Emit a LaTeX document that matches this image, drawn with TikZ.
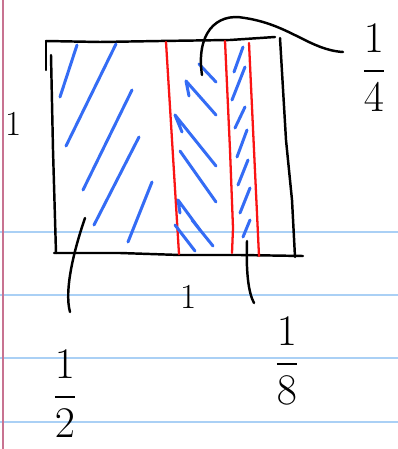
\documentclass[tikz,border=0pt]{standalone}
\usepackage{amsmath}
\definecolor{penblue}{RGB}{52,108,245}
\definecolor{penred}{RGB}{250,20,20}
\definecolor{ruleblue}{RGB}{170,208,245}
\definecolor{marginpink}{RGB}{200,115,145}
\tikzset{
  ink/.style={black, line width=1.4pt, line cap=round, line join=round},
  hatch/.style={penblue, line width=1.7pt, line cap=round, line join=round},
  cut/.style={penred, line width=1.3pt, line cap=round},
  frac/.style={inner sep=0pt, font=\fontsize{29}{34}\selectfont},
  unit/.style={inner sep=0pt, font=\fontsize{20}{24}\selectfont}
}
\begin{document}
\begin{tikzpicture}[x=0.02cm, y=-0.02cm]
    \useasboundingbox (0,0) rectangle (398,449);
    \fill[white] (0,0) rectangle (398,449);

    % 1. Giấy kẻ dòng
    \foreach \yy in {232,295,358,422}
        \draw[ruleblue, line width=1.1pt] (0,\yy) -- (398,\yy);
    \draw[marginpink, line width=1.1pt] (3,0) -- (3,449);

    % 2. Hình vuông
    \draw[ink] (46,41) -- (100,42) -- (160,41) -- (230,40) -- (275,37);
    \draw[ink] (46,41) -- (46,70);
    \draw[ink] (51,55) -- (53,150) -- (56,253);
    \draw[ink] (280,38) -- (286,140) -- (292,200) -- (295,257);
    \draw[ink] (54,253) -- (120,253) -- (180,255) -- (240,255) -- (303,256);

    % 3. Các đường chia (đỏ)
    \draw[cut] (166,42) -- (179,254);
    \draw[cut] (225,41) -- (230,150) -- (233,228) -- (232,253);
    \draw[cut] (249,43) -- (254,150) -- (259,256);

    % 4. Gạch chéo: 1/2
    \foreach \xa/\ya/\xb/\yb in {60/97/77/45, 66/146/116/44, 83/190/132/90,
                                   94/225/139/137, 128/242/152/182}
        \draw[hatch] (\xa,\ya) -- (\xb,\yb);

    % 5. Gạch chéo: 1/4
    \draw[hatch] (199,64) -- (216,82);
    \draw[hatch] (189,96) -- (186,81) -- (216,115);
    \draw[hatch] (182,132) -- (175,115) -- (216,166);
    \draw[hatch] (180,151) -- (216,202);
    \draw[hatch] (180,213) -- (178,200) -- (200,230);
    \draw[hatch] (175,225) -- (195,251);
    \draw[hatch] (192,220) -- (213,246);

    % 6. Gạch chéo: 1/8
    \foreach \xa/\ya/\xb/\yb in {234/72/243/47, 232/100/245/67, 235/128/245/107,
                                   237/157/247/130, 238/185/248/160, 240/213/250/188,
                                   243/237/250/220}
        \draw[hatch] (\xa,\ya) -- (\xb,\yb);

    % 7. Nhãn
    \node[unit] (side) at (14,124) {1};
    \node[unit] (base) at (189,297) {1};
    \node[frac] (half) at (65,394) {$\dfrac{1}{2}$};
    \node[frac] (quarter) at (374,68) {$\dfrac{1}{4}$};
    \node[frac] (eighth) at (287,361) {$\dfrac{1}{8}$};

    % 8. Đường dẫn
    \coordinate (p-half) at (85,218);
    \coordinate (p-quarter) at (202,75);
    \coordinate (p-eighth) at (247,241);
    \draw[ink] (p-half) .. controls (74,250) and (64,290) .. (70,312);
    \draw[ink] (p-quarter) .. controls (196,35) and (215,12) .. (245,18)
               .. controls (290,25) and (310,50) .. (343,52);
    \draw[ink] (p-eighth) .. controls (246,270) and (248,292) .. (254,303);
\end{tikzpicture}
\end{document}
